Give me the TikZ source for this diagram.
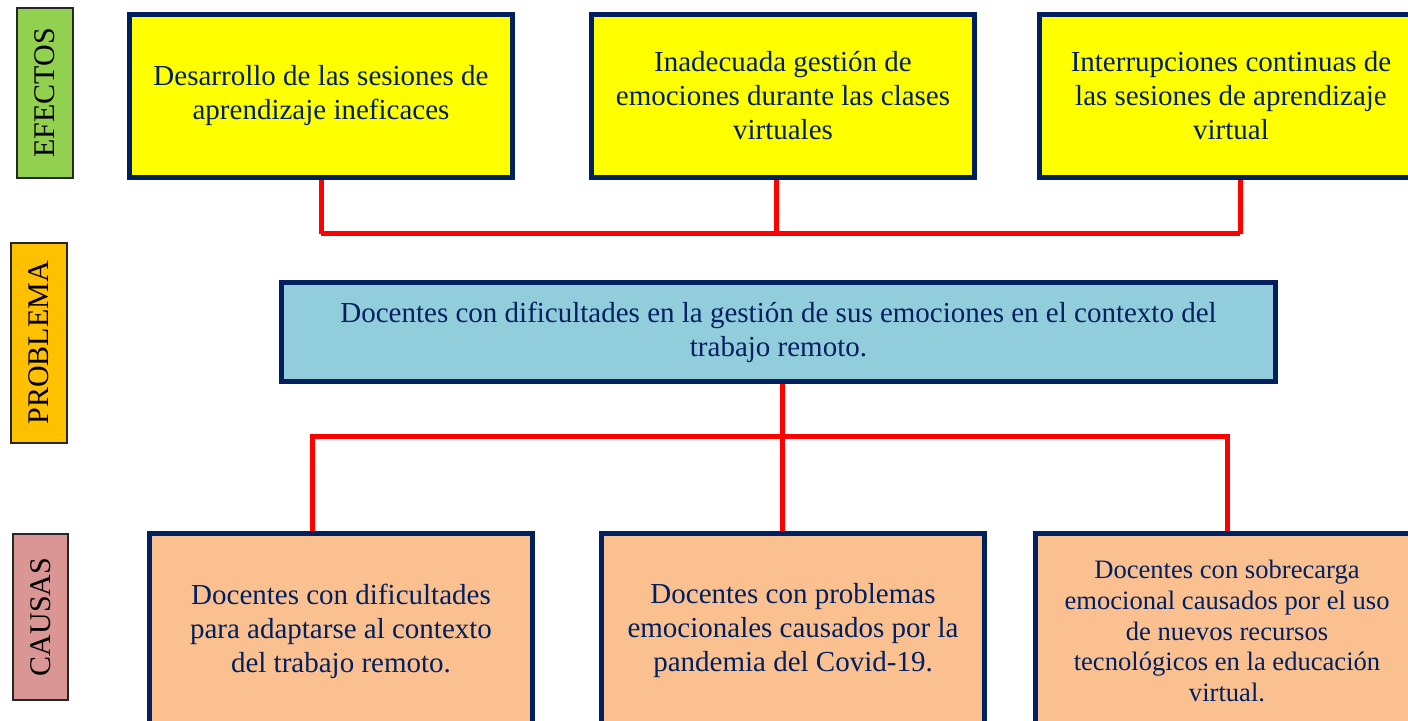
\documentclass[tikz,border=0pt]{standalone}
\usepackage{fontspec}
\setmainfont{Liberation Serif}
\definecolor{azulosc}{HTML}{002060}
\definecolor{amarillo}{HTML}{FFFF00}
\definecolor{celeste}{HTML}{92CDDC}
\definecolor{durazno}{HTML}{FAC090}
\definecolor{verde}{HTML}{92D050}
\definecolor{dorado}{HTML}{FFC000}
\definecolor{rosado}{HTML}{DA9694}
\definecolor{rojo}{HTML}{FF0000}
\begin{document}
\begin{tikzpicture}[x=0.5pt, y=-0.5pt, line join=miter,
	caja/.style={draw=azulosc, line width=2.5pt, text=azulosc, align=center, inner sep=0pt, font=\fontsize{14.5}{17}\selectfont},
	efecto/.style={caja, fill=amarillo, minimum width=191.5pt, minimum height=81.5pt},
	causa/.style={caja, fill=durazno, minimum width=191.5pt, minimum height=97.5pt},
	etiqueta/.style={draw=black!85, line width=0.7pt, rotate=90, inner sep=0pt, font=\fontsize{15}{18}\selectfont},
	conector/.style={draw=rojo, line width=2.5pt}]
	\useasboundingbox (0,0) rectangle (1408,721);
	\clip (0,0) rectangle (1408,721);
	% etiquetas
	\node[etiqueta, fill=verde, minimum width=85pt, minimum height=28pt] (lefe) at (45,93) {EFECTOS};
	\node[etiqueta, fill=dorado, minimum width=100pt, minimum height=28pt] (lpro) at (39,343) {PROBLEMA};
	\node[etiqueta, fill=rosado, minimum width=83pt, minimum height=27.5pt] (lcau) at (40.5,617) {CAUSAS};
	% efectos
	\node[efecto] (e1) at (321,96) {Desarrollo de las sesiones de\\aprendizaje ineficaces};
	\node[efecto] (e2) at (783,96) {Inadecuada gestión de\\emociones durante las clases\\virtuales};
	\node[efecto] (e3) at (1231,96) {Interrupciones continuas de\\las sesiones de aprendizaje\\virtual};
	% problema
	\node[caja, fill=celeste, minimum width=497pt, minimum height=49.5pt] (p) at (778.5,332)
		{Docentes con dificultades en la gestión de sus emociones en el contexto del\\trabajo remoto.};
	% causas
	\node[causa] (c1) at (341,631) {Docentes con dificultades\\para adaptarse al contexto\\del trabajo remoto.};
	\node[causa] (c2) at (793,631) {Docentes con problemas\\emocionales causados por la\\pandemia del Covid-19.};
	\node[causa, font=\fontsize{13.3}{15.3}\selectfont] (c3) at (1227,631)
		{Docentes con sobrecarga\\emocional causados por el uso\\de nuevos recursos\\tecnológicos en la educación\\virtual.};
	% conectores
	\coordinate (bE) at (776,234);
	\coordinate (bC) at (782,437);
	\draw[conector] (e1.south) -- (e1.south |- bE);
	\draw[conector] ([xshift=-3.5pt]e2.south) -- ([xshift=-3.5pt]e2.south |- bE);
	\draw[conector] ([xshift=4.5pt]e3.south) -- ([xshift=4.5pt]e3.south |- bE);
	\draw[conector] (e1.south |- bE) -- ([xshift=4.5pt]e3.south |- bE);
	\draw[conector] ([xshift=1.75pt]p.south) -- ([xshift=1.75pt]p.south |- c2.north);
	\draw[conector] ([xshift=-14.5pt]c1.north) |- (c3.north |- bC) -- (c3.north);
\end{tikzpicture}
\end{document}
